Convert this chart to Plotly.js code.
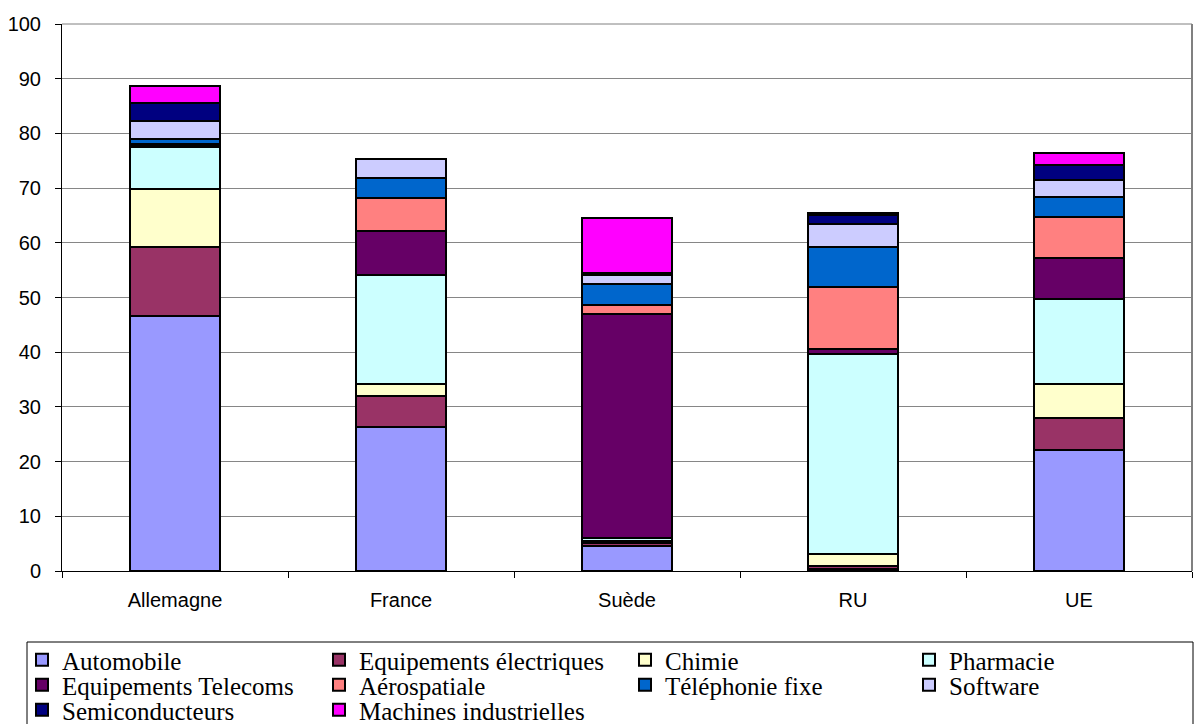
<!DOCTYPE html>
<html>
<head>
<meta charset="utf-8">
<script src="https://cdn.plot.ly/plotly-3.0.1.min.js"></script>
<style>html,body{margin:0;padding:0;background:#fff;}#chart{width:1196px;height:724px;}</style>
</head>
<body>
<div id="chart"></div>
<script>
const categories = ['Allemagne', 'France', 'Suède', 'RU', 'UE'];
const automobile = [46.6, 26.3, 4.6, 0.4, 22.2];
const equipementsElectriques = [12.6, 5.7, 0.5, 0.5, 5.8];
const chimie = [10.7, 2.1, 0.4, 2.2, 6.1];
const pharmacie = [7.7, 20.0, 0.5, 36.6, 15.6];
const equipementsTelecoms = [0.3, 8.1, 41.0, 0.9, 7.6];
const aerospatiale = [0.2, 5.9, 1.7, 11.4, 7.5];
const telephonieFixe = [0.9, 3.7, 3.7, 7.2, 3.6];
const software = [3.3, 3.5, 1.8, 4.2, 3.0];
const semiconducteurs = [3.2, 0, 0.3, 1.7, 2.8];
const machinesIndustrielles = [3.2, 0, 10.0, 0.4, 2.3];

const seriesNames = ['Automobile', 'Equipements électriques', 'Chimie', 'Pharmacie',
  'Equipements Telecoms', 'Aérospatiale', 'Téléphonie fixe', 'Software',
  'Semiconducteurs', 'Machines industrielles'];
const seriesValues = [automobile, equipementsElectriques, chimie, pharmacie,
  equipementsTelecoms, aerospatiale, telephonieFixe, software,
  semiconducteurs, machinesIndustrielles];
const seriesColors = ['#9999FF', '#993366', '#FFFFCC', '#CCFFFF', '#660066',
  '#FF8080', '#0066CC', '#CCCCFF', '#000080', '#FF00FF'];

// layout geometry (pixels)
const W = 1196, H = 724;
const mL = 62, mR = 4, mT = 24, mB = 153;
const pw = W - mL - mR, ph = H - mT - mB;
const px2x = p => (p - mL) / pw;
const px2y = p => (H - mB - p) / ph;

// legend cell positions (swatch left, row centre)
const legCols = [36, 333, 639, 923];
const legRows = [660, 685, 710];
const legFont = {family: 'Liberation Serif, Times New Roman, serif', size: 25, color: '#000'};

const traces = [];
const layoutLegends = {};
seriesNames.forEach((name, i) => {
  const key = i === 0 ? 'legend' : 'legend' + (i + 1);
  traces.push({
    type: 'bar',
    name: name,
    x: categories,
    y: seriesValues[i],
    width: 0.4,
    marker: {color: seriesColors[i], line: {color: '#000', width: 2}},
    legend: key,
    hoverinfo: 'name+y'
  });
  const r = Math.floor(i / 4), c = i % 4;
  layoutLegends[key] = {
    xref: 'container',
    yref: 'container',
    x: (legCols[c] - 14) / W,
    xanchor: 'left',
    y: 1 - legRows[r] / H,
    yanchor: 'middle',
    orientation: 'v',
    bgcolor: 'rgba(0,0,0,0)',
    borderwidth: 0,
    font: legFont,
    itemclick: false
  };
});

const layout = Object.assign({
  width: W,
  height: H,
  margin: {l: mL, r: mR, t: mT, b: mB, autoexpand: false},
  paper_bgcolor: '#fff',
  plot_bgcolor: '#fff',
  barmode: 'stack',
  showlegend: true,
  font: {family: 'Liberation Sans, Arial, sans-serif', size: 20, color: '#000'},
  xaxis: {
    type: 'category',
    showline: true,
    linecolor: '#000',
    linewidth: 1,
    ticks: 'outside',
    tickson: 'boundaries',
    ticklen: 6,
    tickcolor: '#000',
    showgrid: false,
    tickangle: 0,
    tickfont: {family: 'Liberation Sans, Arial, sans-serif', size: 20, color: '#000'},
    ticklabelstandoff: 11,
    automargin: false,
    fixedrange: true
  },
  yaxis: {
    range: [0, 100],
    dtick: 10,
    showline: true,
    linecolor: '#000',
    linewidth: 1,
    ticks: 'outside',
    ticklen: 6,
    tickcolor: '#000',
    showgrid: true,
    gridcolor: '#868686',
    gridwidth: 1,
    zeroline: false,
    tickfont: {family: 'Liberation Sans, Arial, sans-serif', size: 20, color: '#000'},
    ticklabelstandoff: 10,
    automargin: false,
    fixedrange: true
  },
  shapes: [
    {type: 'line', xref: 'paper', yref: 'paper', x0: 0, x1: 1, y0: 1, y1: 1, line: {color: '#808080', width: 1}},
    {type: 'line', xref: 'paper', yref: 'paper', x0: 1, x1: 1, y0: 0, y1: 1, line: {color: '#808080', width: 2}},
    {type: 'rect', xref: 'paper', yref: 'paper', x0: px2x(27), x1: px2x(1193), y0: px2y(780), y1: px2y(642),
     line: {color: '#000', width: 1}, fillcolor: 'rgba(0,0,0,0)'}
  ]
}, layoutLegends);

Plotly.newPlot('chart', traces, layout, {displayModeBar: false, staticPlot: false});
</script>
</body>
</html>
